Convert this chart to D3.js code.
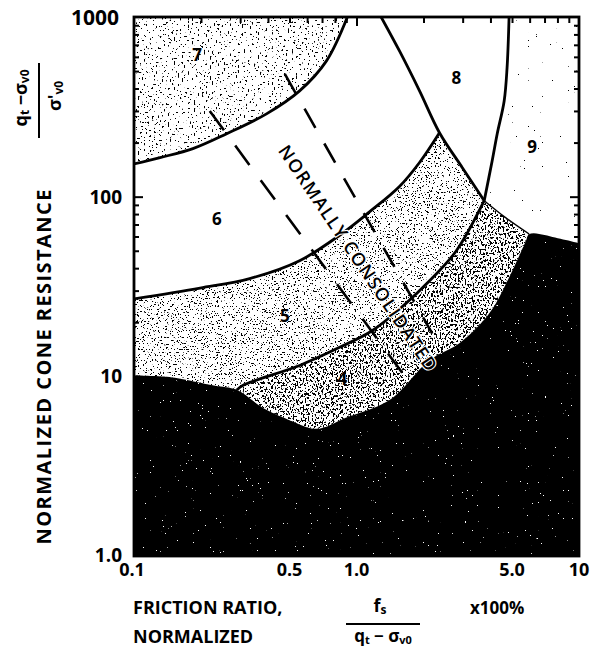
<!DOCTYPE html>
<html>
<head>
<meta charset="utf-8">
<script src="https://cdn.jsdelivr.net/npm/d3@7"></script>
<style>
body { margin: 0; background: #fff; }
text { font-family: "Open Sans", "DejaVu Sans", sans-serif; fill: #000; }
</style>
</head>
<body>
<svg id="chart" width="602" height="656"></svg>
<script>
// zone boundaries, as [friction ratio %, normalized cone resistance]
const bound76 = [[0.1,152],[0.131,165],[0.184,185],[0.261,224],[0.394,289],[0.555,388],[0.733,570],[0.91,1000]];
const bound65 = [[0.1,27],[0.198,31],[0.331,35],[0.555,44],[0.84,61],[1.14,82],[1.56,114],[1.92,155],[2.36,227]];
const bound8 = [[1.29,1000],[1.56,647],[1.92,388],[2.36,227],[2.99,145],[3.75,95]];
const bound89 = [[4.85,1000],[4.75,521],[4.61,341],[4.29,224],[4.07,158],[3.75,95]];
const bound54 = [[3.75,95],[2.81,50],[2.13,34],[1.64,25],[1.18,18],[0.84,14.5],[0.555,11.5],[0.308,8.9],[0.29,8.4]];
const bound49 = [[3.75,95],[4.71,76],[5.97,62]];
const blackTop = [[0.1,10.1],[0.145,9.9],[0.226,8.9],[0.29,8.4],[0.378,6.7],[0.501,5.7],[0.662,5.1],[0.902,5.9],
  [1.41,7.4],[2.13,12.3],[2.9,15.3],[3.95,22.4],[4.85,35.5],[5.78,57],[5.97,62],[8.39,58],[10,55]];

// normally consolidated band (dashed)
const ncLeft = [[0.219,300],[1.61,10.4]];
const ncRight = [[0.476,482],[2.19,17.3]];

const zoneNames = ["7","8","9","6","5","4"];
const zoneFr = [0.192,2.81,6.15,0.236,0.476,0.865];
const zoneQ = [607,452,185,73.5,21.3,9.5];

const xTicks = [0.1,0.5,1,5,10];
const xTickLabels = ["0.1","0.5","1.0","5.0","10"];
const yTicks = [1000,100,10,1];
const yTickLabels = ["1000","100","10","1.0"];

const x0 = 134, x1 = 579, yTop = 17, yBot = 556;
const x = d3.scaleLog().domain([0.1, 10]).range([x0, x1]);
const y = d3.scaleLog().domain([1, 1000]).range([yBot, yTop]);

const svg = d3.select("#chart");
const defs = svg.append("defs");
defs.append("clipPath").attr("id", "plot")
  .append("rect").attr("x", x0).attr("y", yTop).attr("width", x1 - x0).attr("height", yBot - yTop);

// noise stipple: alpha = k*R + b, drawn only inside the shape
function stipple(id, freq, k, b, c, seed) {
  const f = defs.append("filter").attr("id", id)
    .attr("x", 0).attr("y", 0).attr("width", 1).attr("height", 1)
    .attr("color-interpolation-filters", "sRGB");
  f.append("feTurbulence").attr("type", "fractalNoise").attr("baseFrequency", freq)
    .attr("numOctaves", 2).attr("seed", seed).attr("result", "n");
  f.append("feColorMatrix").attr("in", "n").attr("type", "matrix")
    .attr("values", `0 0 0 0 ${c} 0 0 0 0 ${c} 0 0 0 0 ${c} ${k} 0 0 0 ${b}`).attr("result", "d");
  f.append("feComposite").attr("in", "d").attr("in2", "SourceAlpha").attr("operator", "in");
}
stipple("dots7", 0.5, -40, 40 * 0.34, 0, 3);
stipple("dots5", 0.65, -40, 40 * 0.37, 0, 7);
stipple("dots9", 0.5, -40, 40 * 0.23, 0, 11);
stipple("noise4", "0.6 0.45", -30, 30 * 0.45, 0, 5);
stipple("specks", 0.6, -40, 40 * 0.22, 1, 9);

const smooth = d3.line().x(d => x(d[0])).y(d => y(d[1])).curve(d3.curveCatmullRom.alpha(0.5));
const poly = d3.line();

function sample(pts) {
  const p = svg.append("path").attr("d", smooth(pts)).attr("fill", "none");
  const node = p.node(), L = node.getTotalLength();
  const out = d3.range(0, 201).map(i => {
    const q = node.getPointAtLength(L * i / 200);
    return [q.x, q.y];
  });
  p.remove();
  return out;
}
function seg(s, a, b) {
  const xa = x(a), xb = x(b);
  const lo = Math.min(xa, xb) - 0.01, hi = Math.max(xa, xb) + 0.01;
  return s.filter(d => d[0] >= lo && d[0] <= hi)
    .sort((m, n) => xa < xb ? m[0] - n[0] : n[0] - m[0]);
}

const s76 = sample(bound76), s65 = sample(bound65), s8 = sample(bound8), s89 = sample(bound89);
const s54 = sample(bound54), s49 = sample(bound49), sBlack = sample(blackTop);

const zone7 = s76.concat([[x(0.1), y(1000)]]);
const zone5 = s65.concat(seg(s8, 2.36, 3.75), s54, seg(sBlack, 0.29, 0.1));
const zone4 = s54.concat(seg(sBlack, 0.29, 5.97), s49.slice().reverse());
const zone9 = s89.concat(s49, seg(sBlack, 5.97, 10), [[x(10), y(1000)]]);
const black = sBlack.concat([[x(10), y(1)], [x(0.1), y(1)]]);

const plot = svg.append("g").attr("clip-path", "url(#plot)");
plot.append("rect").attr("x", x0).attr("y", yTop).attr("width", x1 - x0).attr("height", yBot - yTop).attr("fill", "#fff");

plot.append("path").attr("d", poly(zone7) + "Z").attr("fill", "#000").attr("filter", "url(#dots7)");
plot.append("path").attr("d", poly(zone5) + "Z").attr("fill", "#000").attr("filter", "url(#dots5)");
plot.append("path").attr("d", poly(zone9) + "Z").attr("fill", "#000").attr("filter", "url(#dots9)");
plot.append("path").attr("d", poly(zone4) + "Z").attr("fill", "#fff");
plot.append("path").attr("d", poly(zone4) + "Z").attr("fill", "#000").attr("filter", "url(#noise4)");
plot.append("path").attr("d", poly(black) + "Z").attr("fill", "#000");
plot.append("path").attr("d", poly(black) + "Z").attr("fill", "#000").attr("filter", "url(#specks)");

// dashed NC lines
[[ncLeft, "24 19"], [ncRight, "22 18"]].forEach(([ln, dash]) => {
  plot.append("line")
    .attr("x1", x(ln[0][0])).attr("y1", y(ln[0][1]))
    .attr("x2", x(ln[1][0])).attr("y2", y(ln[1][1]))
    .attr("stroke", "#000").attr("stroke-width", 2.6).attr("stroke-dasharray", dash);
});

// zone boundaries
[bound76, bound65, bound8, bound89, bound54].forEach(b => {
  plot.append("path").attr("d", smooth(b)).attr("fill", "none")
    .attr("stroke", "#000").attr("stroke-width", 2.8);
});
plot.append("path").attr("d", smooth(bound49)).attr("fill", "none")
  .attr("stroke", "#000").attr("stroke-width", 1.4);

// frame and inward ticks
const minorX = [], minorY = [];
[0.1, 1].forEach(d => { for (let k = 2; k <= 9; k++) minorX.push(d * k); });
[1, 10, 100].forEach(d => { for (let k = 2; k <= 9; k++) minorY.push(d * k); });

function ticks(axis, pos, vals, size) {
  const g = svg.append("g").attr("transform", pos)
    .call(axis.tickValues(vals).tickSize(size).tickFormat(""));
  g.select(".domain").remove();
  g.selectAll("line").attr("stroke", "#000").attr("stroke-width", 2);
}
ticks(d3.axisLeft(y), `translate(${x0},0)`, minorY, -5);
ticks(d3.axisLeft(y), `translate(${x0},0)`, [10, 100], -9);
ticks(d3.axisRight(y), `translate(${x1},0)`, minorY, -5);
ticks(d3.axisRight(y), `translate(${x1},0)`, [10, 100], -9);
ticks(d3.axisTop(x), `translate(0,${yTop})`, minorX, -6);
ticks(d3.axisTop(x), `translate(0,${yTop})`, [1], -9);
ticks(d3.axisBottom(x), `translate(0,${yBot})`, minorX, -6);

svg.append("rect").attr("x", x0).attr("y", yTop).attr("width", x1 - x0).attr("height", yBot - yTop)
  .attr("fill", "none").attr("stroke", "#000").attr("stroke-width", 2.8);

// tick labels
svg.selectAll(".ylab").data(yTicks).enter().append("text")
  .attr("x", (d, i) => i === 0 ? 119 : 122).attr("y", (d, i) => i === 3 ? 557 : y(d) + 2)
  .attr("text-anchor", "end").attr("dominant-baseline", "middle")
  .attr("font-size", (d, i) => i === 0 ? 21 : 19).attr("font-weight", 700)
  .text((d, i) => yTickLabels[i]);
svg.selectAll(".xlab").data(xTicks).enter().append("text")
  .attr("x", d => x(d) - (d === 0.1 ? 2 : 0)).attr("y", 571)
  .attr("text-anchor", "middle").attr("dominant-baseline", "middle")
  .attr("font-size", 18).attr("font-weight", 700)
  .text((d, i) => xTickLabels[i]);

// zone numbers
svg.selectAll(".zone").data(zoneNames).enter().append("text")
  .attr("x", (d, i) => x(zoneFr[i])).attr("y", (d, i) => y(zoneQ[i]))
  .attr("text-anchor", "middle").attr("dominant-baseline", "middle")
  .attr("font-size", 17).attr("font-weight", 700)
  .text(d => d);

// normally consolidated label
svg.append("text")
  .attr("transform", `translate(${x(1.0)},${y(45)}) rotate(56)`)
  .attr("text-anchor", "middle").attr("dominant-baseline", "middle")
  .attr("font-size", 18).attr("font-weight", 600)
  .attr("textLength", 268).attr("lengthAdjust", "spacing")
  .attr("stroke", "#fff").attr("stroke-width", 2.2).attr("paint-order", "stroke")
  .text("NORMALLY CONSOLIDATED");

// axis titles
svg.append("text").attr("transform", "translate(46,367) rotate(-90)")
  .attr("text-anchor", "middle").attr("dominant-baseline", "middle")
  .attr("font-size", 20).attr("font-weight", 700)
  .attr("textLength", 355).attr("lengthAdjust", "spacing")
  .text("NORMALIZED CONE RESISTANCE");

const yfrac = svg.append("g").attr("transform", "translate(0,98)");
const num = yfrac.append("text").attr("transform", "translate(22,0) rotate(-90)")
  .attr("text-anchor", "middle").attr("dominant-baseline", "middle")
  .attr("font-size", 18).attr("font-weight", 700);
num.append("tspan").text("q");
num.append("tspan").attr("font-size", 12).attr("dy", 4).text("t");
num.append("tspan").attr("dy", -4).text(" −σ");
num.append("tspan").attr("font-size", 12).attr("dy", 4).text("v0");
yfrac.append("line").attr("x1", 39).attr("x2", 39).attr("y1", -35).attr("y2", 40)
  .attr("stroke", "#000").attr("stroke-width", 2);
const den = yfrac.append("text").attr("transform", "translate(56,-2) rotate(-90)")
  .attr("text-anchor", "middle").attr("dominant-baseline", "middle")
  .attr("font-size", 18).attr("font-weight", 700);
den.append("tspan").text("σ'");
den.append("tspan").attr("font-size", 12).attr("dy", 4).text("v0");

svg.append("text").attr("x", 133).attr("y", 609).attr("dominant-baseline", "middle")
  .attr("font-size", 18).attr("font-weight", 700).text("FRICTION RATIO,");
svg.append("text").attr("x", 133).attr("y", 638).attr("dominant-baseline", "middle")
  .attr("font-size", 18).attr("font-weight", 700).text("NORMALIZED");
const fs = svg.append("text").attr("x", 380).attr("y", 607).attr("text-anchor", "middle")
  .attr("dominant-baseline", "middle").attr("font-size", 18).attr("font-weight", 700);
fs.append("tspan").text("f");
fs.append("tspan").attr("font-size", 12).attr("dy", 4).text("s");
svg.append("line").attr("x1", 346).attr("x2", 420).attr("y1", 624).attr("y2", 624)
  .attr("stroke", "#000").attr("stroke-width", 1.8);
const fd = svg.append("text").attr("x", 383).attr("y", 637).attr("text-anchor", "middle")
  .attr("dominant-baseline", "middle").attr("font-size", 17).attr("font-weight", 700);
fd.append("tspan").text("q");
fd.append("tspan").attr("font-size", 11).attr("dy", 4).text("t");
fd.append("tspan").attr("dy", -4).text(" − σ");
fd.append("tspan").attr("font-size", 11).attr("dy", 4).text("v0");
svg.append("text").attr("x", 470).attr("y", 609).attr("dominant-baseline", "middle")
  .attr("font-size", 17).attr("font-weight", 700).text("x100%");
</script>
</body>
</html>
